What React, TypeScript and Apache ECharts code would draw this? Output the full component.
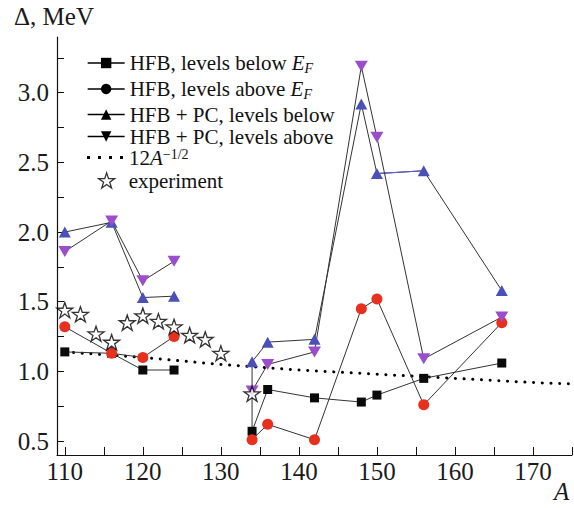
import React, { useEffect, useRef } from "react";
import * as echarts from "echarts";

// Mass numbers A (two groups: 110–124 and 134–166)
const massNumbers = [110, 116, 120, 124, 134, 136, 142, 148, 150, 156, 166];
// Δ, MeV
const hfbBelow = [1.14, 1.13, 1.01, 1.01, 0.57, 0.87, 0.81, 0.78, 0.83, 0.95, 1.06];
const hfbAbove = [1.32, 1.13, 1.10, 1.25, 0.51, 0.62, 0.51, 1.45, 1.52, 0.76, 1.35];
const pcBelow = [2.0, 2.07, 1.53, 1.54, 1.07, 1.21, 1.23, 2.92, 2.42, 2.44, 1.58];
const pcAbove = [1.86, 2.08, 1.65, 1.79, 0.86, 1.05, 1.14, 3.19, 2.68, 1.09, 1.39];
const groupSplitA = 130; // no line drawn across this A

const expA = [110, 112, 114, 116, 118, 120, 122, 124, 126, 128, 130, 134];
const expDelta = [1.44, 1.41, 1.27, 1.21, 1.35, 1.4, 1.36, 1.32, 1.26, 1.23, 1.13, 0.84];

const curveA = [110, 120, 130, 140, 150, 160, 170, 175];
const curveDelta = [1.14, 1.1, 1.05, 1.01, 0.98, 0.95, 0.92, 0.91];

// vertical connector at A = 134 and blue segment 150–156
const connectorA = [134, 134];
const connectorDelta = [0.57, 1.07];
const blueSegA = [150, 156];
const blueSegDelta = [2.42, 2.44];

const xTickValues = [110, 115, 120, 125, 130, 135, 140, 145, 150, 155, 160, 165, 170, 175];
const xLabelValues = [110, 120, 130, 140, 150, 160, 170];
const yTickValues = [0.5, 0.75, 1.0, 1.25, 1.5, 1.75, 2.0, 2.25, 2.5, 2.75, 3.0, 3.25];
const yLabelValues = [0.5, 1.0, 1.5, 2.0, 2.5, 3.0];

const names = [
  "HFB, levels below EF",
  "HFB, levels above EF",
  "HFB + PC, levels below",
  "HFB + PC, levels above",
  "12A^-1/2",
  "experiment",
];

const SERIF = "Liberation Serif";
const STAR =
  "path://M12,0 L14.9,8.6 L24,8.6 L16.6,14 L19.4,22.8 L12,17.4 L4.6,22.8 L7.4,14 L0,8.6 L9.1,8.6 Z";
const DOWN_TRI = "path://M0,0 L12,0 L6,10.4 Z";
const DOTS_ICON = "path://M0,0h3v3h-3z M11,0h3v3h-3z M22,0h3v3h-3z M33,0h3v3h-3z";

function withGap(xs: number[], ys: number[]) {
  const out: any[] = [];
  for (let i = 0; i < xs.length; i++) {
    if (i > 0 && xs[i - 1] < groupSplitA && xs[i] > groupSplitA) out.push([groupSplitA, "-"]);
    out.push([xs[i], ys[i]]);
  }
  return out;
}
const pairs = (xs: number[], ys: number[]) => xs.map((x, i) => [x, ys[i]]);

function makeRich(lh: number, smallLh: number) {
  return {
    i: { fontStyle: "italic", fontFamily: SERIF, fontSize: 21, lineHeight: lh, color: "#111" },
    sub: { fontStyle: "italic", fontFamily: SERIF, fontSize: 14, lineHeight: smallLh, verticalAlign: "bottom", color: "#111" },
    sup: { fontFamily: SERIF, fontSize: 14, lineHeight: smallLh, verticalAlign: "top", color: "#111" },
    n: { fontFamily: SERIF, fontSize: 21, lineHeight: lh, color: "#111" },
  };
}

export default function App() {
  const ref = useRef<HTMLDivElement>(null);
  useEffect(() => {
    if (!ref.current) return;
    const chart = echarts.init(ref.current, undefined, { renderer: "svg" });
    const lineStyle = { color: "#333", width: 1 };
    const labelFor: Record<string, string> = {
      [names[0]]: "{n|HFB, levels below }{i|E}{sub|F}",
      [names[1]]: "{n|HFB, levels above }{i|E}{sub|F}",
      [names[2]]: "{n|HFB + PC, levels below}",
      [names[3]]: "{n|HFB + PC, levels above}",
      [names[4]]: "{n|12}{i|A}{sup|−1/2}",
      [names[5]]: "{n|experiment}",
    };
    const centers = [63, 89, 114, 136, 157, 180];
    const legends = names.map((nm, k) => {
      const lh = k < 2 ? 24 : 20;
      const item: any = {
        name: nm,
        itemStyle: k === 5 ? { color: "#fff", borderColor: "#000", borderWidth: 1.3 } : { color: "#000" },
        lineStyle: { color: "#000", width: 1.3 },
      };
      if (k === 4) {
        item.icon = DOTS_ICON;
        item.itemStyle = { color: "#000", borderWidth: 0 };
      }
      return {
        show: true,
        orient: "vertical",
        left: k === 5 ? 98 : 87,
        top: centers[k] - lh / 2,
        padding: 0,
        itemWidth: k === 5 ? 16 : k === 4 ? 36 : 37,
        itemHeight: k === 5 ? 16 : k === 4 ? 3 : 13,
        selectedMode: false,
        data: [item],
        formatter: (n: string) => labelFor[n],
        textStyle: {
          fontFamily: SERIF,
          fontSize: 21,
          lineHeight: lh,
          color: "#111",
          rich: k < 2 ? makeRich(24, 14) : makeRich(20, 10),
          padding: k === 5 ? [0, 0, 0, 9] : k === 4 ? [0, 0, 0, 1] : 0,
        },
      };
    });

    chart.setOption({
      animation: false,
      backgroundColor: "#fff",
      grid: { left: 57, right: 2, top: 37, bottom: 53, containLabel: false, outerBoundsMode: "none" },
      legend: legends,
      xAxis: {
        type: "value",
        min: 109,
        max: 175,
        axisLine: { show: true, lineStyle: { color: "#111", width: 1.2 } },
        axisTick: { show: true, inside: true, length: 8, customValues: xTickValues, lineStyle: { color: "#111" } },
        axisLabel: {
          customValues: xLabelValues,
          fontFamily: SERIF,
          fontSize: 25,
          color: "#1a1a1a",
          margin: 4,
        },
        splitLine: { show: false },
      },
      yAxis: {
        type: "value",
        min: 0.4,
        max: 3.4,
        axisLine: { show: true, lineStyle: { color: "#111", width: 1.2 } },
        axisTick: { show: true, inside: true, length: 7, customValues: yTickValues, lineStyle: { color: "#111" } },
        axisLabel: {
          customValues: yLabelValues,
          formatter: (v: number) => v.toFixed(1),
          fontFamily: SERIF,
          fontSize: 25,
          color: "#1a1a1a",
          margin: 8,
        },
        splitLine: { show: false },
      },
      graphic: [
        {
          type: "text",
          left: 14,
          top: 4,
          style: { text: "Δ, MeV", fontFamily: SERIF, fontSize: 25, fill: "#1a1a1a" },
        },
        {
          type: "text",
          left: 554,
          top: 479,
          style: { text: "A", fontFamily: SERIF, fontStyle: "italic", fontSize: 25, fill: "#1a1a1a" },
        },
      ],
      series: [
        {
          name: "connector",
          type: "line",
          data: pairs(connectorA, connectorDelta),
          symbol: "none",
          lineStyle,
          z: 1,
        },
        {
          name: names[4],
          type: "line",
          data: pairs(curveA, curveDelta),
          symbol: "none",
          lineStyle: { color: "#000", width: 3, type: [0.1, 8.6], cap: "round" },
          z: 2,
        },
        {
          name: names[0],
          type: "line",
          data: withGap(massNumbers, hfbBelow),
          symbol: "rect",
          symbolSize: 9,
          itemStyle: { color: "#0a0a0a" },
          lineStyle,
          z: 3,
        },
        {
          name: names[1],
          type: "line",
          data: withGap(massNumbers, hfbAbove),
          symbol: "circle",
          symbolSize: 11,
          itemStyle: { color: "#e8301f" },
          lineStyle,
          z: 3,
        },
        {
          name: names[2],
          type: "line",
          data: withGap(massNumbers, pcBelow),
          symbol: "triangle",
          symbolSize: [12, 11],
          itemStyle: { color: "#4a50b8" },
          lineStyle,
          z: 3,
        },
        {
          name: "blueSegment",
          type: "line",
          data: pairs(blueSegA, blueSegDelta),
          symbol: "none",
          lineStyle: { color: "#5b60d0", width: 1.2 },
          z: 3,
        },
        {
          name: names[3],
          type: "line",
          data: withGap(massNumbers, pcAbove),
          symbol: DOWN_TRI,
          symbolSize: [13, 11],
          itemStyle: { color: "#9a4ecb" },
          lineStyle,
          z: 3,
        },
        {
          name: names[5],
          type: "scatter",
          data: pairs(expA, expDelta),
          symbol: STAR,
          symbolSize: 16,
          symbolKeepAspect: true,
          itemStyle: { color: "#fff", borderColor: "#000", borderWidth: 1.3 },
          z: 4,
        },
      ],
    });
    return () => chart.dispose();
  }, []);
  return (
    <div
      ref={ref}
      style={{ position: "absolute", left: 0, top: 0, width: 574, height: 508, background: "#fff" }}
    />
  );
}
